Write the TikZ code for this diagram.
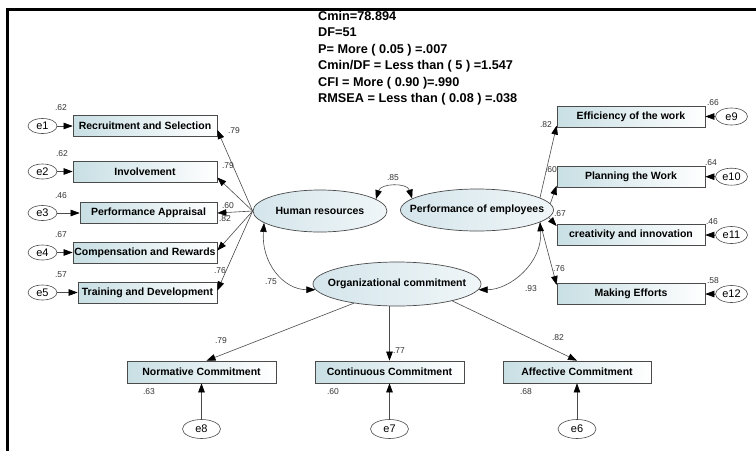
\documentclass[tikz,border=0pt]{standalone}
\usepackage{fontspec}
\setmainfont{Liberation Sans}
\usetikzlibrary{arrows.meta,shapes.geometric,calc}
\definecolor{boxfill}{RGB}{200,223,228}
\definecolor{ellfill}{RGB}{212,229,235}
\definecolor{linec}{RGB}{75,75,75}
\begin{document}
\begin{tikzpicture}[x=1pt,y=-1pt,
  mbox/.style={draw=linec, line width=0.7pt, rectangle, inner sep=0pt, minimum height=21pt,
    left color=boxfill, right color=white, font=\fontsize{10.5}{12}\selectfont\bfseries, text=black},
  lat/.style={draw=linec, line width=0.7pt, ellipse, inner sep=0pt,
    left color=ellfill, right color=ellfill!35!white, font=\fontsize{10.5}{12}\selectfont\bfseries},
  err/.style={draw=linec, line width=0.6pt, ellipse, inner sep=0pt, fill=white,
    font=\fontsize{11}{12}\selectfont},
  arr/.style={draw=linec, line width=0.6pt, -{Triangle[length=9pt,width=6.5pt,color=black]}},
  darr/.style={draw=linec, line width=0.6pt,
    {Triangle[length=9pt,width=6.5pt,color=black]}-{Triangle[length=9pt,width=6.5pt,color=black]}},
  coef/.style={font=\fontsize{8.5}{9}\selectfont, text=black!80, inner sep=0pt},
  stat/.style={font=\fontsize{12.7}{14}\selectfont\bfseries, anchor=base west, inner sep=0pt}
]
\useasboundingbox (0,0) rectangle (756,451);
\fill[white] (0,0) rectangle (756,451);
\draw[line width=3pt] (756,9) -- (7.5,9) -- (7.5,451);

% statistics
\node[stat] (s1) at (318,20) {Cmin=78.894};
\node[stat] (s2) at (318,36.5) {DF=51};
\node[stat] (s3) at (318,53) {P= More ( 0.05 ) =.007};
\node[stat] (s4) at (318,69.5) {Cmin/DF = Less than ( 5 ) =1.547};
\node[stat] (s5) at (318,86) {CFI = More ( 0.90 )=.990};
\node[stat] (s6) at (318,102.5) {RMSEA = Less than ( 0.08 ) =.038};

% latent variables
\node[lat, minimum width=134pt, minimum height=42pt] (hr) at (320,211) {\makebox[0pt]{Human resources}};
\node[lat, minimum width=153pt, minimum height=42pt] (pe) at (477,210) {\makebox[0pt]{Performance of employees}};
\node[lat, minimum width=168pt, minimum height=44pt] (org) at (397,284) {\makebox[0pt]{Organizational commitment}};

% left indicators
\node[mbox, minimum width=144pt] (b1) at (145,126) {Recruitment and Selection};
\node[mbox, minimum width=144pt] (b2) at (145,171.5) {Involvement};
\node[mbox, minimum width=137pt] (b3) at (148.5,213) {Performance Appraisal};
\node[mbox, minimum width=144pt] (b4) at (145,252.5) {Compensation and Rewards};
\node[mbox, minimum width=139pt] (b5) at (147.5,292.5) {Training and Development};

\node[err, minimum width=29pt, minimum height=15pt] (e1) at (42.5,126) {e1};
\node[err, minimum width=29pt, minimum height=15pt] (e2) at (42.5,171.5) {e2};
\node[err, minimum width=29pt, minimum height=15pt] (e3) at (42.5,213) {e3};
\node[err, minimum width=29pt, minimum height=15pt] (e4) at (42.5,252.5) {e4};
\node[err, minimum width=29pt, minimum height=15pt] (e5) at (42.5,292.5) {e5};

% right indicators
\node[mbox, minimum width=148pt] (r1) at (631,116.5) {Efficiency of the work};
\node[mbox, minimum width=148pt] (r2) at (631,176.7) {Planning the Work};
\node[mbox, minimum width=148pt] (r3) at (631,235) {creativity and innovation};
\node[mbox, minimum width=148pt] (r4) at (631,294) {Making Efforts};

\node[err, minimum width=32pt, minimum height=17pt] (e9) at (731.5,116.5) {e9};
\node[err, minimum width=32pt, minimum height=17pt] (e10) at (731.5,176.7) {e10};
\node[err, minimum width=32pt, minimum height=17pt] (e11) at (731.5,235) {e11};
\node[err, minimum width=32pt, minimum height=17pt] (e12) at (731.5,294) {e12};

% bottom indicators
\node[mbox, minimum width=149pt, minimum height=22pt] (n1) at (201.5,372) {Normative Commitment};
\node[mbox, minimum width=149pt, minimum height=22pt] (n2) at (389.5,372) {Continuous Commitment};
\node[mbox, minimum width=148pt, minimum height=22pt] (n3) at (577,372) {Affective Commitment};

\node[err, minimum width=38pt, minimum height=19pt] (e8) at (201.5,429) {e8};
\node[err, minimum width=38pt, minimum height=19pt] (e7) at (389.5,429) {e7};
\node[err, minimum width=38pt, minimum height=19pt] (e6) at (577,429) {e6};

% error arrows
\draw[arr] (e1) -- (b1);
\draw[arr] (e2) -- (b2);
\draw[arr] (e3) -- (b3);
\draw[arr] (e4) -- (b4);
\draw[arr] (e5) -- (b5);
\draw[arr] (e9) -- (r1);
\draw[arr] (e10) -- (r2);
\draw[arr] (e11) -- (r3);
\draw[arr] (e12) -- (r4);
\draw[arr] (e8) -- (n1);
\draw[arr] (e7) -- (n2);
\draw[arr] (e6) -- (n3);

% loadings
\draw[arr] (hr.west) -- ($(b1.east)+(0,4)$);
\draw[arr] (hr.west) -- ($(b2.east)+(0,6)$);
\draw[arr] (hr.west) -- (b3.east);
\draw[arr] (hr.west) -- ($(b4.east)+(0,-2)$);
\draw[arr] (hr.west) -- ($(b5.east)+(0,-2)$);

\draw[arr] (pe.11) -- ($(r1.west)+(0,9)$);
\draw[arr] (pe.5) -- ($(r2.west)+(0,9)$);
\draw[arr] (pe.-6) -- ($(r3.west)+(0,-9)$);
\draw[arr] (pe.-11) -- ($(r4.west)+(0,-9)$);

\draw[arr] (org.204) -- ($(n1.north)+(5,0)$);
\draw[arr] (org.south -| n2.north) -- (n2.north);
\draw[arr] (org.-17) -- (n3.north);

% covariances
\draw[darr] (hr.12) .. controls +(5,-16) and +(-5,-16) .. (pe.170);
\draw[darr] (hr.192) .. controls +(-3,40) and +(-32,0) .. (org.184);
\draw[darr] (pe.-11) .. controls +(3,40) and +(32,0) .. (org.-4);

% coefficient labels
\node[coef] (c85) at (393,178) {.85};
\node[coef] (c75) at (271,282) {.75};
\node[coef] (c93) at (531,289) {.93};

\node[coef] (l1) at (234,131) {.79};
\node[coef] (l2) at (228,166) {.79};
\node[coef] (l3) at (228,206) {.60};
\node[coef] (l4) at (225,219) {.82};
\node[coef] (l5) at (220,271) {.76};

\node[coef] (q1) at (546,125) {.82};
\node[coef] (q2) at (551,170) {.60};
\node[coef] (q3) at (560,214) {.67};
\node[coef] (q4) at (559,269) {.76};

\node[coef] (m1) at (221,341) {.79};
\node[coef] (m2) at (399,351) {.77};
\node[coef] (m3) at (558,338) {.82};

% squared multiple correlations
\node[coef] (v1) at (61,108) {.62};
\node[coef] (v2) at (62,154) {.62};
\node[coef] (v3) at (61,196) {.46};
\node[coef] (v4) at (61,235) {.67};
\node[coef] (v5) at (61,275) {.57};

\node[coef] (v9) at (713,103) {.66};
\node[coef] (v10) at (711,163) {.64};
\node[coef] (v11) at (712,222) {.46};
\node[coef] (v12) at (713,281) {.58};

\node[coef] (v8) at (149,392) {.63};
\node[coef] (v7) at (333,392) {.60};
\node[coef] (v6) at (526,392) {.68};
\end{tikzpicture}
\end{document}
